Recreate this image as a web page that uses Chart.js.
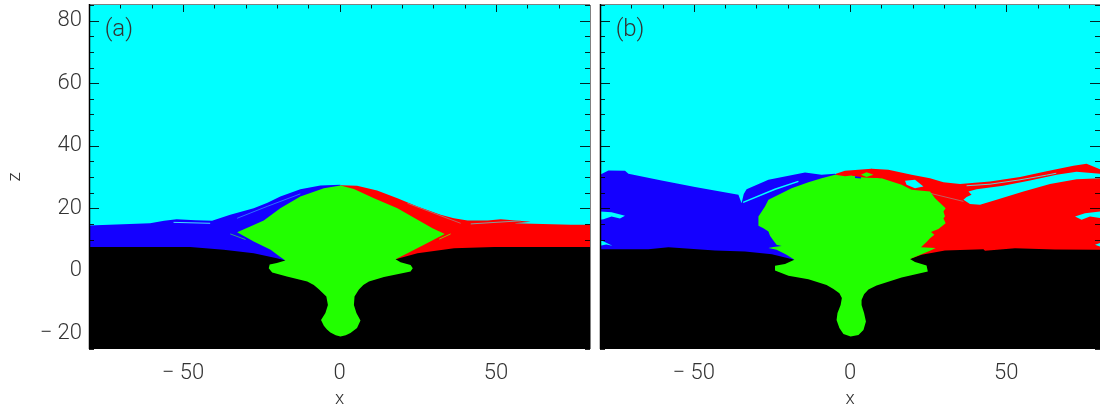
<!DOCTYPE html>
<html>
<head>
<meta charset="utf-8">
<style>
  html, body { margin: 0; padding: 0; background: #fff; width: 1100px; height: 411px; overflow: hidden; }
  .panel { position: absolute; top: 0; height: 411px; }
  #panelA { left: 0; width: 595px; }
  #panelB { left: 595px; width: 505px; }
</style>
<script src="https://cdn.jsdelivr.net/npm/chart.js@4"></script>
</head>
<body>
<div class="panel" id="panelA"><canvas id="chartA"></canvas></div>
<div class="panel" id="panelB"><canvas id="chartB"></canvas></div>
<script>
// axes
const xLimits = [-80, 80];
const zLimits = [-25, 85];
const xMajorTicks = [-50, 0, 50];
const xMinorTicks = [-70, -60, -40, -30, -20, -10, 10, 20, 30, 40, 60, 70];
const zMajorTicks = [-20, 0, 20, 40, 60, 80];
const zMinorTicks = [-25, -15, -10, -5, 5, 10, 15, 25, 30, 35, 45, 50, 55, 65, 70, 75, 85];

const CYAN = '#00ffff', BLUE = '#1400ff', RED = '#ff0000', GREEN = '#22ff00', BLACK = '#000000';

const background = [[-80, -25], [-80, 85], [80, 85], [80, -25]];

// panel (a), values as [x, z]
const aBlue = [[-80, 0], [-80, 14.5], [-60.5, 15.2], [-56, 16], [-52, 16.5], [-46, 16.2], [-40.7, 16], [-34.9, 17.9], [-27.4, 20],
  [-23, 21.8], [-18.9, 23.8], [-12.5, 26.1], [-6.1, 27.3], [0.3, 27.5], [0, 0]];
const aRed = [[0, 0], [0.3, 27.4], [5.6, 27.2], [12, 25.7], [18.5, 23.2], [24.9, 20.6], [32.3, 17.9], [36.5, 16.8], [40.9, 16.1],
  [47.3, 16.1], [51.5, 16.5], [56.3, 16.1], [61.1, 15.7], [55.8, 15.2], [73.9, 14.7], [80, 14.7], [80, 0]];
const aBlack = [[-80, -25], [-80, 7.6], [-47.7, 7.6], [-37, 6.7], [-27.4, 5.6], [-20, 4], [-17.3, 3.3], [17.9, 3.7],
  [24.9, 5.6], [36.6, 7.2], [49.4, 7.6], [80, 7.6], [80, -25]];
const aGreen = [[0.3, 27.3], [-5, 26.4], [-12.5, 23.8], [-18.9, 20], [-24.2, 16.1], [-28.5, 14.2], [-32.7, 12.3],
  [-27.4, 9.4], [-22, 6.7], [-18.9, 4.4], [-17.3, 3.3], [-20, 2.5], [-22.3, 2], [-22.6, 0.85], [-21.5, -0.5],
  [-16.8, -1.8], [-10.3, -3.4], [-8.2, -4.5], [-6.6, -5.9], [-4.2, -8.2], [-3.7, -10.9], [-4.5, -13.5], [-5.9, -15.7], [-5, -17.6],
  [-4, -18.8], [-2.9, -19.7], [-1.2, -20.6], [0.3, -21], [2, -20.6], [3.5, -19.9], [5.6, -18.3], [6.7, -15.9], [5.4, -13.5], [4.6, -10.9], [4.8, -8.2],
  [6.2, -6], [7.6, -4.5], [9.4, -3.4], [14.2, -2], [22.7, -0.2], [23.4, 0.85], [22.7, 1.9], [19.5, 2.7], [17.9, 3.7], [21.7, 5.6],
  [27, 8.3], [33.6, 11.8], [29.7, 13.6], [25.9, 15.8], [18.5, 20], [11, 23.2], [4.6, 26.2]];
const aBlueStreak = [[-32.7, 16.8], [-23.1, 20.6], [-12.5, 24.6]];
const aTailLeft = [[-53, 15.5], [-41.3, 15.2]];
const aGreenLeft = [[-34.9, 11.8], [-30, 10]];
const aRedStreak = [[21.7, 21.6], [38.7, 15.2]];
const aTailRight = [[41.9, 15], [57.9, 16]];
const aGreenRight = [[31.8, 10.1], [35.5, 11.8]];

// panel (b)
const bBlue = [[-80, 0], [-80, 30.7], [-77.3, 32.1], [-72, 32], [-70.9, 31], [-60.3, 28.9], [-49.6, 26.8], [-35.7, 24.3],
  [-34.7, 21.6], [-34, 24.6], [-33.1, 26.1], [-26.1, 29.1], [-14.4, 31.4], [-9.1, 30.7], [-4.8, 31], [0, 28], [0, 0]];
const bRed = [[-4.5, 30.5], [-4.5, 31], [-1.6, 32], [1.6, 32.2], [6.9, 32.6], [12.3, 32.3], [19.7, 30.7], [25.6, 29.6], [29.9, 28.3],
  [35.2, 27.8], [44.8, 28.6], [54.4, 30], [62.9, 31.8], [71.5, 33.6], [75.7, 34.2], [80, 32.5], [80, 0], [0, 0]];
const bBlack = [[-80, -25], [-80, 6.9], [-64.5, 6.9], [-58.1, 7.5], [-43.2, 6.5], [-33.6, 6.2], [-25, 5.3], [-17.8, 3.5],
  [19.2, 3.8], [22.9, 5.1], [30.4, 6.5], [42.7, 6.9], [43.2, 6.4], [52.8, 7.2], [65.6, 6.8], [80, 6.7], [80, -25]];
const bGreen = [[-1.6, 30.2], [-4.8, 30.7], [-9.1, 29.6], [-13.3, 28.3], [-18.7, 26.4], [-26.1, 22.7], [-27.2, 20.6],
  [-29.3, 17.4], [-29.3, 14.4], [-27.7, 13.6], [-26.1, 12.6], [-25.6, 11.2], [-24.7, 9.9], [-23.5, 8.3], [-21.9, 7.9], [-24.5, 7.6],
  [-26.1, 7.3], [-23.5, 6.7], [-20.3, 5.1], [-17.8, 3.5],
  [-20.8, 2.2], [-24, 1.6], [-24, 0.1], [-19.7, -1.6], [-13.3, -2.7], [-7.5, -4.5], [-5.3, -5.8], [-3.4, -7.2], [-2.6, -8.7], [-3, -10.9],
  [-4, -13.5], [-4.3, -15.7], [-3.4, -18.3], [-2.1, -20.2], [0.2, -21], [2.7, -20.5], [4.3, -18.9], [5.1, -16.2], [4.5, -13.5], [3.7, -10.9],
  [3.7, -9.3], [4.5, -7.5], [5.9, -6], [8.5, -4.7], [16.5, -2.1], [24.9, -0.2], [24.5, 1.7], [20.8, 2.8], [19.2, 3.8], [25.6, 6.4], [27.4, 7.3],
  [22.7, 7.5], [24.5, 9.2], [25.6, 10.4], [27, 11.5], [25.9, 12.4], [28.3, 13.4], [30.6, 15.2], [29.9, 16.8], [30.4, 17.4], [29.9, 19], [30.6, 20],
  [27.2, 23.2], [25.6, 25.4], [19.7, 25.9], [16.5, 27.5], [10.1, 29.6], [3, 30], [0.5, 30.5]];
const bWedge = [[80, 31], [72.5, 31.7], [66.1, 30.7], [57.6, 28.9], [49, 27.2], [40.5, 26.1], [37.9, 25.4], [38.9, 24.3], [37.3, 23.6], [36.3, 22.7],
  [38.4, 21.4], [41.6, 21.1], [46.9, 22.7], [55.5, 25.4], [64, 27.8], [72.5, 29.3], [80, 29.6]];
const bHoleLeft = [[-80, 19], [-76.3, 18.7], [-72, 17.6], [-73.6, 16.7], [-76.3, 17.4], [-78.9, 16.5], [-80, 16.3]];
const bHoleLeftLow = [[-80, 9.9], [-76, 8], [-78, 8.4], [-80, 8]];
const bHoleRight = [[80, 19], [75.2, 18.4], [72, 17.4], [74.1, 16.3], [76.8, 17.4], [80, 16.9]];
const bHoleRightLow = [[78.4, 8.3], [80, 8.9], [80, 7.8]];
const bLoop = [[17.6, 28.8], [20.8, 29.1], [23.5, 27], [20.8, 26.4], [18.1, 27.5]];
const bIsland = [[3.5, 30.7], [5.3, 31.5], [7.5, 30.7], [5.3, 30]];
const bBlueSpot = [[1.6, 30.2], [3.5, 30], [3.5, 29.5], [1.6, 29.7]];
const bRedOverGreen = [[0.5, 30.5], [3, 30], [10.1, 29.6], [6.9, 32.6]];
const bBlueStreak = [[-34.2, 21.9], [-24, 26.1], [-16.5, 28.6]];
const bWedgeStreak = [[37.3, 27.2], [44.8, 27.7], [54.4, 29.1], [62.9, 30.6], [66, 31.2]];
const bRedStreak = [[25.6, 24.8], [36.3, 22.2]];

const fillLayer = (points, color) => ({ data: points.map(([x, y]) => ({ x, y })), backgroundColor: color, fill: 'shape', borderWidth: 0 });
const streak = (points, color, width) => ({ data: points.map(([x, y]) => ({ x, y })), borderColor: color, borderWidth: width, fill: false });

// IDL style ticks point into the plot, which the scales can't do with two lengths
const insetTicks = {
  id: 'insetTicks',
  afterDatasetsDraw(chart, args, opts) {
    const { ctx, chartArea: area, scales: { x, y } } = chart;
    ctx.save();
    ctx.strokeStyle = '#808080';
    ctx.lineWidth = 1;
    ctx.beginPath();
    ctx.moveTo(area.left, area.top - 0.5);
    ctx.lineTo(area.right, area.top - 0.5);
    ctx.moveTo(area.right + 0.5, area.top);
    ctx.lineTo(area.right + 0.5, area.bottom);
    ctx.stroke();
    ctx.strokeStyle = '#000';
    ctx.lineWidth = 1.5;
    ctx.beginPath();
    ctx.moveTo(area.left + 0.5, area.top - 1);
    ctx.lineTo(area.left + 0.5, area.bottom);
    ctx.stroke();
    ctx.strokeStyle = 'rgba(0,0,0,0.85)';
    ctx.lineWidth = 1;
    const vertical = (list, len) => list.forEach(v => {
      const px = Math.round(x.getPixelForValue(v)) + 0.5;
      ctx.moveTo(px, area.top);
      ctx.lineTo(px, area.top + len);
    });
    const horizontal = (list, len) => list.forEach(v => {
      const py = Math.round(y.getPixelForValue(v)) + 0.5;
      ctx.moveTo(area.left, py);
      ctx.lineTo(area.left + len, py);
      ctx.moveTo(area.right, py);
      ctx.lineTo(area.right - len, py);
    });
    ctx.beginPath();
    vertical(xMajorTicks, 7);
    vertical(xMinorTicks, 3.5);
    horizontal(zMajorTicks, 10);
    horizontal(zMinorTicks, 5);
    ctx.stroke();
    ctx.fillStyle = '#333';
    ctx.font = '300 24px Roboto';
    ctx.textBaseline = 'middle';
    ctx.fillText(opts.label, x.getPixelForValue(-75), y.getPixelForValue(77));
    ctx.restore();
  }
};

function makeChart(id, layers, label, showZ, padLeft, padRight) {
  return new Chart(document.getElementById(id), {
    type: 'line',
    data: { datasets: layers }, // first dataset ends up on top
    plugins: [insetTicks],
    options: {
      responsive: true,
      maintainAspectRatio: false,
      animation: false,
      events: [],
      elements: { point: { radius: 0 }, line: { tension: 0 } },
      layout: { padding: { top: 5, left: padLeft, right: padRight, bottom: 0 } },
      plugins: { legend: { display: false }, tooltip: { enabled: false }, insetTicks: { label: label } },
      scales: {
        x: {
          type: 'linear',
          min: xLimits[0],
          max: xLimits[1],
          grid: { display: false, drawTicks: false },
          border: { display: false },
          afterBuildTicks: axis => { axis.ticks = xMajorTicks.map(value => ({ value })); },
          afterFit: axis => { axis.height = 62; axis.paddingLeft = 0; axis.paddingRight = 0; },
          ticks: {
            autoSkip: false, maxRotation: 0, padding: 11, color: '#333',
            font: { family: 'Roboto', size: 22, weight: '300' },
            callback: v => String(v).replace('-', '\u2212 ')
          },
          title: { display: true, text: 'x', color: '#333', padding: { top: 0, bottom: 0 }, font: { family: 'Roboto', size: 19, weight: '300' } }
        },
        y: {
          type: 'linear',
          min: zLimits[0],
          max: zLimits[1],
          grid: { display: false, drawTicks: false },
          border: { display: false },
          afterBuildTicks: axis => { axis.ticks = zMajorTicks.map(value => ({ value })); },
          afterFit: axis => { axis.width = showZ ? 89 : 0; axis.paddingTop = 0; axis.paddingBottom = 0; },
          ticks: {
            display: showZ, autoSkip: false, padding: 7, color: '#333',
            font: { family: 'Roboto', size: 22, weight: '300' },
            callback: v => String(v).replace('-', '\u2212 ')
          },
          title: { display: showZ, text: 'z', color: '#333', padding: { top: 4, bottom: 0 }, font: { family: 'Roboto', size: 19, weight: '300' } }
        }
      }
    }
  });
}

// listed from the top layer down
makeChart('chartA', [
  streak(aBlueStreak, '#2a70ff', 1),
  streak(aTailLeft, '#40e0ff', 1),
  streak(aGreenLeft, '#30a080', 1),
  streak(aRedStreak, '#c06060', 1),
  streak(aTailRight, '#80a0a0', 1),
  streak(aGreenRight, '#90c000', 1),
  fillLayer(aGreen, GREEN),
  fillLayer(aBlack, BLACK),
  fillLayer(aRed, RED),
  fillLayer(aBlue, BLUE),
  fillLayer(background, CYAN)
], '(a)', true, 0, 5);

makeChart('chartB', [
  fillLayer(bLoop, CYAN),
  fillLayer(bIsland, GREEN),
  fillLayer(bBlueSpot, BLUE),
  fillLayer(bRedOverGreen, RED),
  fillLayer(bGreen, GREEN),
  fillLayer(bBlack, BLACK),
  streak(bBlueStreak, CYAN, 1.5),
  streak(bWedgeStreak, '#60d0d0', 1),
  streak(bRedStreak, '#c06060', 1),
  fillLayer(bHoleLeft, CYAN),
  fillLayer(bHoleLeftLow, CYAN),
  fillLayer(bHoleRight, CYAN),
  fillLayer(bHoleRightLow, CYAN),
  fillLayer(bWedge, CYAN),
  fillLayer(bRed, RED),
  fillLayer(bBlue, BLUE),
  fillLayer(background, CYAN)
], '(b)', false, 5, 0);
</script>
</body>
</html>
